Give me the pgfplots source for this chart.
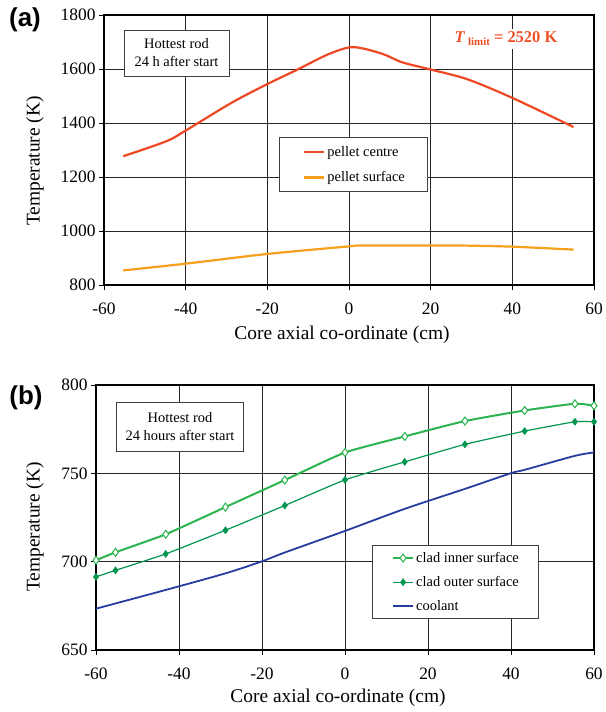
\documentclass[border=0pt]{standalone}
\usepackage{fontspec}
\setmainfont{Liberation Serif}
\newfontfamily\sansbold{Liberation Sans}
\usepackage{pgfplots}
\pgfplotsset{compat=1.18}
\definecolor{pcentre}{RGB}{238,72,36}
\definecolor{psurface}{RGB}{247,160,28}
\definecolor{tlim}{RGB}{240,80,40}
\definecolor{cinner}{RGB}{44,180,80}
\definecolor{couter}{RGB}{0,150,80}
\definecolor{cool}{RGB}{40,60,160}
\newcommand{\tickfont}{\rmfamily\fontsize{17.5}{20}\selectfont}
\newcommand{\labfont}{\fontsize{19.5}{22}\selectfont}
\newcommand{\legfont}{\fontsize{14.5}{17}\selectfont}
\pgfplotsset{
  common/.style={
    scale only axis,
    xmin=-60, xmax=60,
    xtick={-60,-40,-20,0,20,40,60},
    xticklabels={\textrm{-60},\textrm{-40},\textrm{-20},\textrm{0},\textrm{20},\textrm{40},\textrm{60}},
    tick align=outside,
    major tick length=5bp,
    xtick pos=bottom, ytick pos=left,
    tick style={black, line width=0.9bp},
    axis line style={black, line width=1.1bp},
    grid=major,
    major grid style={black!85, line width=0.9bp},
    ticklabel style={font=\tickfont},
    xticklabel style={yshift=-9bp},
    legend cell align=left,
    legend style={font=\legfont, draw=none, fill=none},
    clip=false,
  }
}
\begin{document}
\begin{tikzpicture}
\useasboundingbox (0,0) rectangle (606bp,-712bp);
% ---------- panel (a)
\begin{axis}[common,
  at={(104bp,-285bp)}, anchor=south west,
  width=490bp, height=270bp,
  ymin=800, ymax=1800,
  ytick={800,1000,1200,1400,1600,1800},
  yticklabels={\textrm{800},\textrm{1000},\textrm{1200},\textrm{1400},\textrm{1600},\textrm{1800}},
  legend style={at={(0.357,0.548)}, anchor=north west,
    inner xsep=8bp, inner ysep=7bp, row sep=10bp},
]
\draw[black!75, fill=white, line width=0.8bp] (axis cs:-17.1,1348) rectangle (axis cs:19.1,1148);
\addplot[pcentre, line width=2.2bp, smooth, tension=0.5,
  legend image code/.code={\path (-16bp,0bp); \draw[pcentre, line width=2.5bp] (0bp,0bp) -- (20bp,0bp);}]
  coordinates {
(-55.3,1277) (-44.8,1332) (-40,1372) (-28.75,1475) (-19.9,1545) (-12.6,1598)
(-5,1655) (1,1681) (8,1657) (13,1625) (20,1598) (29,1562) (40,1493) (55,1385)};
\addlegendentry{pellet centre}
\addplot[psurface, line width=2.2bp, smooth, tension=0.5,
  legend image code/.code={\path (-16bp,0bp); \draw[psurface, line width=2.5bp] (0bp,0bp) -- (20bp,0bp);}]
  coordinates {
(-55.3,854) (-40,879) (-20,915) (0,943) (3,946) (20,946) (28,946) (40,942) (55,931)};
\addlegendentry{pellet surface}
\end{axis}
% ---------- panel (b)
\begin{axis}[common,
  at={(96bp,-650bp)}, anchor=south west,
  width=498bp, height=265bp,
  ymin=650, ymax=800,
  ytick={650,700,750,800},
  yticklabels={\textrm{650},\textrm{700},\textrm{750},\textrm{800}},
  legend style={at={(0.554,0.396)}, anchor=north west,
    inner xsep=8bp, inner ysep=5bp, row sep=8.5bp},
]
\draw[black!75, fill=white, line width=0.8bp] (axis cs:6.5,709.4) rectangle (axis cs:46.5,668.1);
\addplot[cinner, line width=2bp, smooth, tension=0.3, mark=diamond*, mark size=4bp,
  mark options={fill=white, draw=cinner, line width=1bp, solid},
  legend image code/.code={\path (-12bp,0bp); \draw[cinner, line width=2bp] (0bp,0bp) -- (20bp,0bp);
    \path[fill=white, draw=cinner, line width=1bp] plot[mark=diamond*, mark size=4bp] coordinates {(10bp,0bp)};}]
  coordinates {
(-60,700.8) (-55.3,705.3) (-43.2,715.5) (-28.8,730.9) (-14.5,746.2) (0,761.8)
(14.4,770.9) (28.9,779.6) (43.3,785.6) (55.4,789.4) (60,788.3)};
\addlegendentry{clad inner surface}
\addplot[couter, line width=1.2bp, smooth, tension=0.3, mark=diamond*, mark size=3bp,
  mark options={fill=couter, draw=couter, solid},
  legend image code/.code={\path (-12bp,0bp); \draw[couter, line width=1.4bp] (0bp,0bp) -- (20bp,0bp);
    \path[fill=couter, draw=couter] plot[mark=diamond*, mark size=3bp] coordinates {(10bp,0bp)};}]
  coordinates {
(-60,691.4) (-55.3,695.1) (-43.2,704.4) (-28.8,717.8) (-14.5,731.8) (0,746.3)
(14.4,756.5) (28.9,766.4) (43.3,773.9) (55.4,779.2) (60,779.2)};
\addlegendentry{clad outer surface}
\addplot[cool, line width=1.8bp, smooth, tension=0.5,
  legend image code/.code={\path (-12bp,0bp); \draw[cool, line width=2.2bp] (0bp,0bp) -- (20bp,0bp);}]
  coordinates {
(-60,673.4) (-43.2,684.0) (-28.8,693.4) (-20,700.2) (-14.5,705.2) (0,717.4)
(14.4,729.9) (28.9,741.2) (40,750.1) (43.3,752.0) (55.4,759.9) (60,761.8)};
\addlegendentry{coolant}
\end{axis}
% ---------- annotations
\node[draw=black!75, line width=0.8bp, fill=white, minimum width=105bp, minimum height=46bp,
  align=center, font=\fontsize{14.5}{18}\selectfont, inner sep=0pt] at (176.5bp,-53bp)
  {Hottest rod\\24 h after start};
\node[draw=black!75, line width=0.8bp, fill=white, minimum width=127bp, minimum height=49bp,
  align=center, font=\fontsize{14.5}{18}\selectfont, inner sep=0pt] at (180bp,-426.5bp)
  {Hottest rod\\24 hours after start};
\node[fill=white, text=tlim, font=\fontsize{16.5}{18}\selectfont\bfseries, inner sep=3bp]
  at (506bp,-39bp) {\textit{T}\,{\fontsize{11}{12}\selectfont\raisebox{-3bp}{limit}} = 2520 K};
\node[font=\sansbold\fontsize{26}{28}\selectfont\bfseries] at (25bp,-20bp) {(a)};
\node[font=\sansbold\fontsize{26}{28}\selectfont\bfseries] at (26bp,-398bp) {(b)};
\node[font=\labfont, rotate=90] at (35bp,-161bp) {Temperature (K)};
\node[font=\labfont, rotate=90] at (35bp,-527bp) {Temperature (K)};
\node[font=\labfont] at (342bp,-335bp) {Core axial co-ordinate (cm)};
\node[font=\labfont] at (338bp,-698bp) {Core axial co-ordinate (cm)};
\end{tikzpicture}
\end{document}
